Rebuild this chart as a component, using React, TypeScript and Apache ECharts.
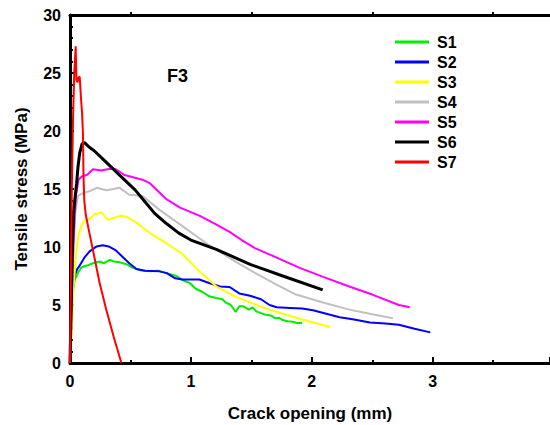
import React, { useEffect, useRef } from "react";
import * as echarts from "echarts";

const seriesNames = ["S1", "S2", "S3", "S4", "S5", "S6", "S7"];
const seriesColors = ["#00ee00", "#0000ff", "#ffff00", "#c0c0c0", "#ff00ff", "#000000", "#ff0000"];
const seriesWidths = [2, 2, 2, 2, 2, 3, 2];

const s1: number[][] = [[0,0],[0.008,3],[0.015,5],[0.025,6.2],[0.04,7.2],[0.066,7.75],[0.09,8.2],[0.107,8.3],[0.14,8.4],[0.19,8.6],[0.245,8.75],[0.28,8.6],[0.33,8.9],[0.36,8.75],[0.4,8.7],[0.44,8.6],[0.47,8.5],[0.52,8.2],[0.58,8.0],[0.66,7.9],[0.73,7.95],[0.8,7.75],[0.88,7.5],[0.94,7.1],[0.99,6.9],[1.04,6.4],[1.1,6.1],[1.15,5.75],[1.21,5.6],[1.26,5.5],[1.29,5.2],[1.33,5.0],[1.37,4.4],[1.4,4.9],[1.43,4.9],[1.48,4.6],[1.51,4.8],[1.54,4.45],[1.58,4.3],[1.62,4.15],[1.66,4.1],[1.7,3.85],[1.73,3.9],[1.76,3.7],[1.8,3.6],[1.84,3.55],[1.88,3.45],[1.92,3.45]];
const s2: number[][] = [[0,0],[0.008,3],[0.015,5],[0.025,6.5],[0.04,7.6],[0.06,8.1],[0.08,8.4],[0.12,9.1],[0.16,9.6],[0.22,10.05],[0.27,10.15],[0.32,10.05],[0.38,9.7],[0.44,9.1],[0.49,8.6],[0.55,8.1],[0.62,7.95],[0.74,7.9],[0.8,7.75],[0.87,7.3],[0.93,7.2],[1.07,7.2],[1.15,6.9],[1.24,6.6],[1.32,6.55],[1.4,6.0],[1.49,5.8],[1.58,5.5],[1.65,5.0],[1.71,4.8],[1.82,4.75],[1.92,4.7],[2.01,4.55],[2.12,4.25],[2.23,3.95],[2.35,3.75],[2.48,3.5],[2.61,3.4],[2.72,3.3],[2.85,2.95],[2.98,2.64]];
const s3: number[][] = [[0,0],[0.015,3],[0.03,6.5],[0.05,9.5],[0.07,11],[0.094,11.8],[0.12,12.3],[0.16,12.4],[0.2,12.8],[0.26,13.0],[0.31,12.35],[0.36,12.5],[0.42,12.7],[0.47,12.6],[0.55,12.1],[0.66,11.2],[0.77,10.5],[0.93,9.4],[1.07,7.9],[1.21,6.6],[1.37,5.7],[1.62,4.7],[1.87,3.9],[2.15,3.1]];
const s4: number[][] = [[0,0],[0.015,5],[0.03,10],[0.045,13],[0.066,14.4],[0.107,14.65],[0.16,14.8],[0.22,15.1],[0.3,14.9],[0.36,15.0],[0.41,15.1],[0.49,14.5],[0.6,14.4],[0.74,13.2],[0.93,11.8],[1.13,10.3],[1.32,9.05],[1.49,8.0],[1.7,6.8],[1.87,5.9],[2.1,5.2],[2.31,4.6],[2.5,4.2],[2.67,3.85]];
const s5: number[][] = [[0,0],[0.01,4],[0.02,8],[0.035,12],[0.05,14.5],[0.07,15.8],[0.1,16.1],[0.14,16.2],[0.19,16.7],[0.26,16.6],[0.33,16.75],[0.38,16.7],[0.45,16.2],[0.6,15.8],[0.66,15.5],[0.8,14.1],[0.91,13.4],[1.07,12.7],[1.2,12.0],[1.32,11.3],[1.42,10.6],[1.53,9.9],[1.62,9.5],[1.9,8.2],[2.1,7.4],[2.31,6.6],[2.5,5.9],[2.72,5.0],[2.81,4.8]];
const s6: number[][] = [[0,0],[0.01,5],[0.02,10],[0.03,13],[0.04,14.1],[0.055,15.5],[0.066,16.9],[0.08,18.1],[0.1,18.9],[0.12,19],[0.16,18.6],[0.2,18.3],[0.29,17.4],[0.41,16.2],[0.54,14.9],[0.62,13.9],[0.7,12.9],[0.8,12.0],[0.9,11.2],[1.0,10.6],[1.21,9.8],[1.49,8.5],[1.76,7.5],[2.09,6.3]];
const s7: number[][] = [[0,0],[0.008,8],[0.015,15],[0.025,21],[0.035,25],[0.047,27.3],[0.053,24.4],[0.062,24.2],[0.07,24.6],[0.08,24.7],[0.09,23],[0.1,21.5],[0.107,19.8],[0.112,16],[0.118,14],[0.13,12.8],[0.149,11.8],[0.2,9.2],[0.245,6.9],[0.3,4.6],[0.36,2.3],[0.425,0]];
const allData = [s1, s2, s3, s4, s5, s6, s7];

const xTicks = { min: 0, max: 3.97, interval: 1 };
const yTicks = { min: 0, max: 30, interval: 5 };

const font = "'Liberation Sans', Arial, sans-serif";

export default function App() {
  const ref = useRef<HTMLDivElement>(null);
  useEffect(() => {
    if (!ref.current) return;
    const chart = echarts.init(ref.current, null, { renderer: "svg" });
    chart.setOption({
      animation: false,
      backgroundColor: "#ffffff",
      textStyle: { fontFamily: font },
      title: {
        text: "F3",
        left: 162,
        top: 62,
        textStyle: { fontFamily: font, fontWeight: "bold", fontSize: 18, color: "#000" },
      },
      legend: {
        orient: "vertical",
        left: 390,
        top: 29,
        icon: "rect",
        itemWidth: 34,
        itemHeight: 3,
        itemGap: 4,
        data: seriesNames,
        textStyle: { fontFamily: font, fontWeight: "bold", fontSize: 16, color: "#000", padding: [0, 0, 0, 3] },
      },
      grid: { left: 70, top: 15, bottom: 62, right: 0, containLabel: false, outerBoundsMode: "none" },
      xAxis: [
        {
          type: "value",
          position: "bottom",
          min: xTicks.min,
          max: xTicks.max,
          interval: xTicks.interval,
          name: "Crack opening (mm)",
          nameLocation: "middle",
          nameGap: 42,
          nameTextStyle: { fontFamily: font, fontWeight: "bold", fontSize: 17, color: "#000" },
          axisLine: { show: true, onZero: false, lineStyle: { color: "#000", width: 3 } },
          axisTick: { show: true, inside: true, length: 6, lineStyle: { color: "#000", width: 2 } },
          minorTick: { show: true, splitNumber: 2, length: 3, lineStyle: { color: "#000", width: 2 } },
          axisLabel: { showMaxLabel: false, fontFamily: font, fontWeight: "bold", fontSize: 16, color: "#000", margin: 10 },
          splitLine: { show: false },
        },
        {
          type: "value",
          position: "top",
          min: xTicks.min,
          max: xTicks.max,
          interval: xTicks.interval,
          axisLine: { show: true, onZero: false, lineStyle: { color: "#000", width: 3 } },
          axisTick: { show: false },
          minorTick: { show: true, splitNumber: 2, length: 3, lineStyle: { color: "#000", width: 2 } },
          axisLabel: { show: false },
          splitLine: { show: false },
        },
      ],
      yAxis: {
        type: "value",
        min: yTicks.min,
        max: yTicks.max,
        interval: yTicks.interval,
        name: "Tensile stress (MPa)",
        nameLocation: "middle",
        nameGap: 40,
        nameTextStyle: { fontFamily: font, fontWeight: "bold", fontSize: 17, color: "#000" },
        axisLine: { show: true, onZero: false, lineStyle: { color: "#000", width: 3 } },
        axisTick: { show: true, inside: true, length: 4, lineStyle: { color: "#000", width: 2 } },
        minorTick: { show: true, splitNumber: 5, length: 3, lineStyle: { color: "#000", width: 2 } },
        axisLabel: { fontFamily: font, fontWeight: "bold", fontSize: 16, color: "#000", margin: 9 },
        splitLine: { show: false },
      },
      series: seriesNames.map((name, i) => ({
        name,
        type: "line",
        data: allData[i],
        showSymbol: false,
        symbol: "none",
        xAxisIndex: 0,
        color: seriesColors[i],
        lineStyle: { color: seriesColors[i], width: seriesWidths[i] },
        z: 2 + i,
      })),
    });
    return () => chart.dispose();
  }, []);
  return <div ref={ref} style={{ width: 550, height: 425, position: "absolute", left: 0, top: 0 }} />;
}
